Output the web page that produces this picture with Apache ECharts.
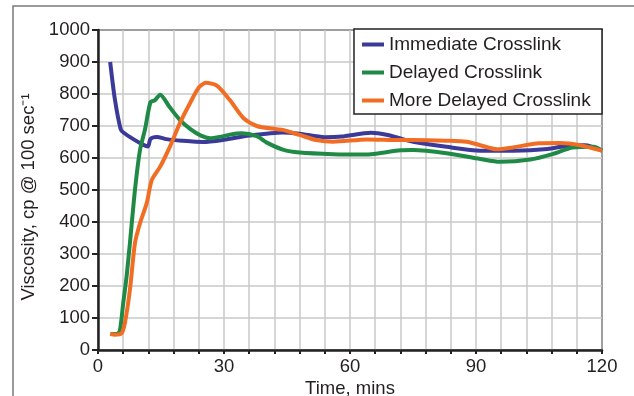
<!DOCTYPE html>
<html>
<head>
<meta charset="utf-8">
<script src="https://cdn.jsdelivr.net/npm/echarts@6/dist/echarts.min.js"></script>
<style>
  html, body { margin: 0; padding: 0; background: #fff; }
  #chart { width: 634px; height: 396px; }
</style>
</head>
<body>
<div id="chart"></div>
<script>
// data (time in mins, viscosity in cp)
const seriesNames = ['Immediate Crosslink', 'Delayed Crosslink', 'More Delayed Crosslink'];

const immediateTime = [2.9, 4, 5.4, 6.2, 8.4, 10.8, 11.9, 12.5, 14, 16.3, 20, 25, 30, 36, 44, 48, 54, 58, 65, 69, 72, 75, 83, 91, 99, 107, 113, 116, 120];
const immediateVisc = [900, 785, 690, 678, 659, 641, 636, 660, 666, 659, 654, 650, 657, 670, 680, 676, 665, 667, 679, 672, 661, 651, 635, 623, 623, 628, 640, 640, 623];

const delayedTime = [3, 4.5, 5.2, 6, 6.8, 7.6, 8.8, 10, 11.2, 12.5, 13.5, 14.8, 17, 19.5, 22, 24.5, 26.7, 29, 31.4, 34.2, 37.8, 40.2, 44, 48, 56, 64, 67, 72, 75, 83, 91, 95.7, 102.9, 108.4, 113, 118, 120];
const delayedVisc = [50, 50, 60, 146, 229, 334, 500, 625, 690, 775, 780, 798, 760, 719, 690, 670, 662, 666, 673, 677, 668, 648, 626, 617, 612, 611, 615, 624, 625, 615, 597, 588, 595, 613, 633, 635, 623];

const moreDelayedTime = [2.9, 4, 5.6, 6.4, 7.6, 8.8, 10, 11.6, 12.8, 14.8, 17.1, 19.5, 21.9, 24, 25.7, 28.3, 31.4, 34.6, 37.8, 42.5, 44, 48, 52, 56, 64, 72, 75, 83, 87.8, 91, 95, 98.8, 105, 110, 114.8, 120];
const moreDelayedVisc = [50, 48, 52, 84, 188, 334, 396, 459, 531, 573, 635, 709, 771, 820, 835, 826, 781, 725, 700, 690, 688, 672, 656, 651, 658, 656, 656, 654, 651, 640, 627, 633, 646, 647, 640, 623];

const xTickLabels = [0, 30, 60, 90, 120];

const colors = ['#3b3a98', '#1e8a45', '#f26d24'];

const pairs = (t, v) => t.map((x, i) => [x, v[i]]);

const chart = echarts.init(document.getElementById('chart'));
const font = 'Liberation Sans, Arial, sans-serif';

const lineSeries = (name, data, color) => ({
  name: name,
  type: 'line',
  data: data,
  smooth: 0.25,
  symbol: 'none',
  lineStyle: { color: color, width: 4 },
  itemStyle: { color: color },
  z: 3
});

chart.setOption({
  animation: false,
  backgroundColor: '#fff',
  textStyle: { fontFamily: font },
  grid: {
    left: 98, right: 32, top: 30, bottom: 46,
    outerBoundsMode: 'none',
    show: true, borderColor: '#222', borderWidth: 2
  },
  graphic: [
    {
      type: 'rect',
      shape: { x: 13, y: 6, width: 700, height: 500 },
      style: { fill: 'none', stroke: '#7a7a7a', lineWidth: 1.5 },
      z: 0
    },
    {
      type: 'rect',
      shape: { x: 354, y: 29, width: 248, height: 85 },
      style: { fill: '#fff', stroke: '#222', lineWidth: 1.5 },
      z: 10
    }
  ],
  legend: {
    orient: 'vertical',
    left: 362,
    top: 35,
    padding: 0,
    itemGap: 9,
    itemWidth: 22,
    itemHeight: 4,
    icon: 'rect',
    z: 20,
    data: seriesNames,
    textStyle: { fontSize: 19, lineHeight: 19, color: '#231f20', fontFamily: font }
  },
  xAxis: {
    type: 'value',
    min: 0, max: 120, interval: 6,
    name: 'Time, mins',
    nameLocation: 'middle',
    nameGap: 29,
    nameMoveOverlap: false,
    nameTextStyle: { fontSize: 18.5, color: '#231f20' },
    axisLine: { lineStyle: { color: '#222', width: 2.5 } },
    axisTick: { inside: false, length: 4, lineStyle: { color: '#222', width: 2 } },
    axisLabel: {
      fontSize: 18.5, color: '#231f20', margin: 7,
      formatter: v => (xTickLabels.includes(v) ? String(v) : '')
    },
    splitLine: { show: true, lineStyle: { color: '#c8c8c8', width: 1.5 } }
  },
  yAxis: {
    type: 'value',
    min: 0, max: 1000, interval: 100,
    name: 'Viscosity, cp @ 100 sec⁻¹',
    nameLocation: 'middle',
    nameRotate: 90,
    nameGap: 45,
    nameTextStyle: { fontSize: 18.5, color: '#231f20', padding: [0, 14, 0, 0] },
    axisLine: { show: true, lineStyle: { color: '#222', width: 2.5 } },
    axisTick: { show: true, inside: false, length: 6, lineStyle: { color: '#222', width: 2 } },
    axisLabel: { fontSize: 18.5, color: '#231f20', margin: 8, formatter: v => String(v) },
    splitLine: { show: true, lineStyle: { color: '#c8c8c8', width: 1.5 } }
  },
  series: [
    lineSeries(seriesNames[0], pairs(immediateTime, immediateVisc), colors[0]),
    lineSeries(seriesNames[1], pairs(delayedTime, delayedVisc), colors[1]),
    lineSeries(seriesNames[2], pairs(moreDelayedTime, moreDelayedVisc), colors[2])
  ]
});
</script>
</body>
</html>
